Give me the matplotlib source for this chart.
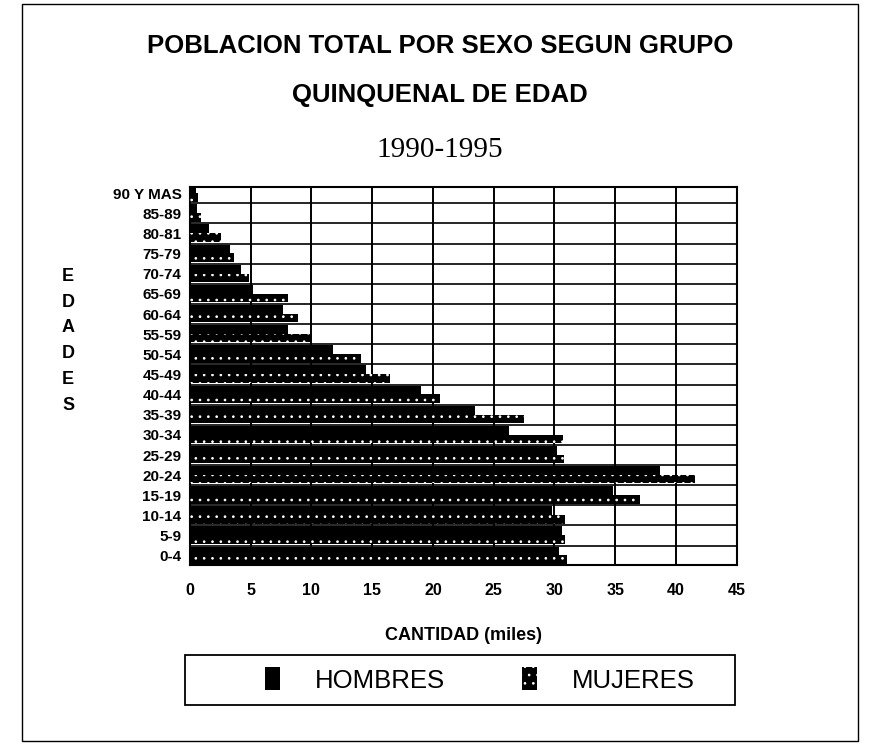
"""Poblacion total por sexo segun grupo quinquenal de edad, 1990-1995."""

import matplotlib
matplotlib.use('Agg')
import matplotlib.pyplot as plt
from matplotlib.patches import Rectangle
import numpy as np

plt.rcParams['font.family'] = ['Liberation Sans', 'DejaVu Sans']
plt.rcParams['hatch.linewidth'] = 0.7

# valores en miles, de 0-4 hacia arriba
grupos = ['0-4', '5-9', '10-14', '15-19', '20-24', '25-29', '30-34', '35-39', '40-44',
          '45-49', '50-54', '55-59', '60-64', '65-69', '70-74', '75-79', '80-81',
          '85-89', '90 Y MAS']
hombres = [30.4, 30.6, 29.8, 34.8, 38.7, 30.2, 26.3, 23.5, 19.0, 14.5, 11.8, 8.1,
           7.7, 5.2, 4.2, 3.3, 1.6, 0.6, 0.5]
mujeres = [31.0, 30.9, 30.9, 37.0, 41.6, 30.8, 30.7, 27.5, 20.6, 16.5, 14.1, 10.0,
           8.9, 8.1, 4.9, 3.6, 2.6, 0.9, 0.7]
xticks = [0, 5, 10, 15, 20, 25, 30, 35, 40, 45]

fig = plt.figure(figsize=(8.75, 7.49), dpi=100)
ax = fig.add_axes([0.217, 0.246, 0.625, 0.504])

y = np.arange(len(grupos))
ax.barh(y + 0.22, hombres, height=0.46, color='black', linewidth=0, zorder=3,
        label='HOMBRES')
ax.barh(y - 0.2, mujeres, height=0.42, color='black', edgecolor='white',
        hatch='..', linewidth=0, zorder=3, label='MUJERES')

ax.set_xlim(0, 45)
ax.set_ylim(-0.45, 18.3)

# cuadricula
for v in xticks[1:-1]:
    ax.axvline(v, color='black', lw=1.4, zorder=1)
for h in y[:-1] + 0.5:
    ax.axhline(h, color='black', lw=1.2, zorder=1)
for s in ax.spines.values():
    s.set_linewidth(1.5)

ax.set_xticks(xticks)
ax.set_xticklabels([str(t) for t in xticks], fontsize=11.5, fontweight='bold')
ax.set_yticks(y)
ax.set_yticklabels(grupos, fontsize=11, fontweight='bold')
ax.tick_params(axis='x', length=0, pad=13)
ax.tick_params(axis='y', length=0, pad=6)
ax.set_xlabel('CANTIDAD (miles)', fontsize=13, fontweight='bold', labelpad=21)

fig.text(0.078, 0.545, 'E\nD\nA\nD\nE\nS', ha='center', va='center', fontsize=13,
         fontweight='bold', linespacing=1.68)

fig.text(0.503, 0.939, 'POBLACION TOTAL POR SEXO SEGUN GRUPO', ha='center', va='center',
         fontsize=18.5, fontweight='bold')
fig.text(0.503, 0.873, 'QUINQUENAL DE EDAD', ha='center', va='center',
         fontsize=18.5, fontweight='bold')
fig.text(0.503, 0.80, '1990-1995', ha='center', va='center', fontsize=21,
         family='Liberation Serif')

# leyenda: recuadro aparte, entradas repartidas dentro
leg = fig.legend(loc='center left', bbox_to_anchor=(265 / 875, 0.092, 430 / 875, 0.0),
                 mode='expand', ncol=2, fontsize=18.5, frameon=False,
                 handlelength=0.6, handleheight=1.0, handletextpad=1.35,
                 borderpad=0, borderaxespad=0)
fig.patches.append(Rectangle((185 / 875, 1 - 705 / 749), 550 / 875, 50 / 749,
                             transform=fig.transFigure, fill=False,
                             edgecolor='black', lw=1.3))

fig.patches.append(Rectangle((0.025, 0.011), 0.955, 0.983, transform=fig.transFigure,
                             fill=False, edgecolor='black', lw=1.0))

fig.savefig('out.png', dpi=100)
